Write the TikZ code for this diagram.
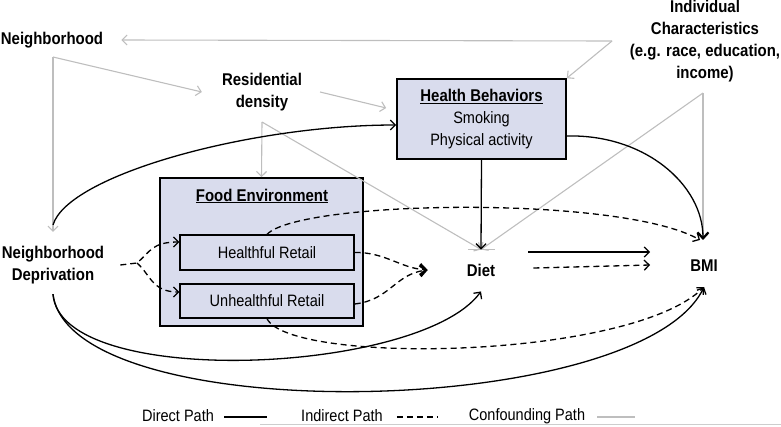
\documentclass[tikz,border=0pt]{standalone}
\usepackage{fontspec}
\setmainfont{Liberation Sans}[FakeStretch=0.88]
\usetikzlibrary{arrows.meta}
\definecolor{boxfill}{RGB}{217,220,237}
\definecolor{confgray}{RGB}{190,190,190}
\definecolor{edgegray}{RGB}{205,205,205}
\tikzset{
  lbl/.style={font=\fontsize{17}{22}\selectfont\bfseries, align=center, inner sep=0pt},
  txt/.style={font=\fontsize{16.5}{22}\selectfont, inner sep=0pt},
  bx/.style={draw=black, line width=1.6pt, fill=boxfill},
  conf/.style={draw=confgray, line width=1.1pt},
  direct/.style={draw=black, line width=1.3pt},
  indirect/.style={draw=black, line width=1.3pt, dash pattern=on 6pt off 4pt},
  boldtip/.style={-{Straight Barb[length=6pt,width=11pt,line width=2.2pt]}}
}
\begin{document}
\begin{tikzpicture}[x=1pt,y=-1pt,>={Straight Barb[length=5pt,width=10pt]}]
\useasboundingbox (0,0) rectangle (781,426);

% boxes
\node[bx, minimum width=169pt, minimum height=80pt, inner sep=0pt, align=center,
      font=\fontsize{16.5}{22}\selectfont] (hb) at (481.5,119)
      {{\fontsize{17}{22}\selectfont\bfseries\underline{Health Behaviors}}\\Smoking\\Physical activity};
\node[bx, minimum width=203pt, minimum height=148pt] (fe) at (261.5,252) {};
\node[lbl] (fet) at (262,196) {\underline{Food Environment}};
\node[bx, line width=1.3pt, minimum width=174pt, minimum height=35pt, txt] (hr) at (267,252.5) {Healthful Retail};
\node[bx, line width=1.3pt, minimum width=174pt, minimum height=34pt, txt] (ur) at (267,301) {Unhealthful Retail};

% text nodes
\node[lbl] (nb) at (52,40) {Neighborhood};
\node[lbl] (rd) at (262,92) {Residential\\density};
\node[lbl] (ic) at (705,41) {Individual\\Characteristics\\(e.g. race, education,\\income)};
\node[lbl] (nd) at (53,265) {Neighborhood\\Deprivation};
\node[lbl] (diet) at (481,270) {Diet};
\node[lbl] (bmi) at (704,266) {BMI};

% junction points
\coordinate (icA) at (612,41);
\coordinate (icB) at (703,93);
\coordinate (nbA) at (53,57);
\coordinate (rdA) at (262,122);
\coordinate (ndS) at (137,263);

% confounding paths
\draw[conf,->] (icA) -- ([xshift=18pt]nb.east);
\draw[conf,->] (icA) -- (hb.north east);
\draw[conf,->] (nbA) -- ([xshift=-20pt]rd.west);
\draw[conf,->] (nbA) -- ([yshift=14pt]nd.north);
\draw[conf,->] ([xshift=18pt]rd.east) -- ([xshift=-10pt,yshift=11pt]hb.west);
\draw[conf,->] (rdA) -- (fe.north);
\draw[conf,->] (rdA) -- ([yshift=14pt]diet.north);
\draw[conf,->] (icB) -- ([yshift=14pt]diet.north);
\draw[conf,->] (icB) -- ([xshift=-1pt,yshift=20pt]bmi.north);
\draw[conf] ([xshift=-13pt,yshift=14pt]diet.north) -- ([xshift=14pt,yshift=14pt]diet.north);

% direct paths
\draw[direct,->] ([yshift=21pt]nd.north) .. controls (68,175) and (250,125) .. ([yshift=-6pt]hb.west);
\draw[direct,->] (hb.south) -- ([yshift=14pt]diet.north);
\draw[direct,boldtip] ([yshift=-17pt]hb.east) .. controls (645,134) and (703,185) .. ([xshift=-1pt,yshift=20pt]bmi.north);
\draw[direct,->] ([xshift=33pt,yshift=18pt]diet.east) -- ([xshift=-40pt,yshift=14pt]bmi.west);
\draw[direct,->] ([yshift=-10pt]nd.south) .. controls (60,390) and (420,375) .. ([yshift=-15pt]diet.south);
\draw[direct,->] ([yshift=-10pt]nd.south) .. controls (70,430) and (640,420) .. ([yshift=-15pt]bmi.south);

% indirect paths
\draw[indirect,->] ([xshift=16pt]nd.east) -- (ndS) .. controls (150,252) and (152,242) .. ([yshift=10.5pt]hr.west);
\draw[indirect,->] (ndS) .. controls (150,274) and (152,292) .. ([yshift=9pt]ur.west);
\draw[indirect,boldtip] (hr.east) .. controls (385,252) and (400,268) .. ([xshift=-39pt]diet.west);
\draw[indirect,boldtip] ([yshift=-3pt]ur.east) .. controls (390,300) and (395,274) .. ([xshift=-39pt]diet.west);
\draw[indirect,->] (hr.north) .. controls (300,200) and (620,195) .. ([xshift=-4pt,yshift=20pt]bmi.north);
\draw[indirect,->] (ur.south) .. controls (290,365) and (630,360) .. ([yshift=-15pt]bmi.south);
\draw[indirect,->] ([xshift=38pt,yshift=2pt]diet.east) -- ([xshift=-40pt,yshift=1pt]bmi.west);

% legend
\node[txt] (ld) at (178,416) {Direct Path};
\node[txt] (li) at (342,416) {Indirect Path};
\node[txt] (lc) at (527,416) {Confounding Path};
\draw[direct] ([xshift=10pt,yshift=-1pt]ld.east) -- ++(43,0);
\draw[indirect] ([xshift=14pt,yshift=-1pt]li.east) -- ++(41,0);
\draw[conf] ([xshift=12pt,yshift=-1pt]lc.east) -- ++(38,0);

% bottom rule
\draw[draw=edgegray, line width=0.8pt] (260,424.5) -- (781,424.5);
\end{tikzpicture}
\end{document}
